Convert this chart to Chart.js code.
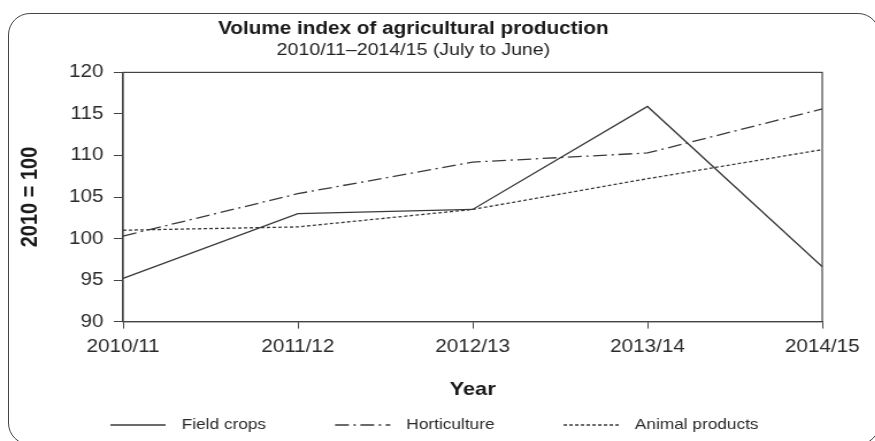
<!DOCTYPE html>
<html>
<head>
<meta charset="utf-8">
<script src="https://cdn.jsdelivr.net/npm/chart.js@4"></script>
<style>
  html, body { margin: 0; padding: 0; background: #fff; }
  #wrap { position: relative; width: 875px; height: 441px; overflow: hidden; }
  #frame { position: absolute; left: 8px; top: 13px; width: 872px; height: 432px;
    border: 1.5px solid #444; border-radius: 22px; box-sizing: border-box; }
  /* the original is a bit wide-set, so the drawing is stretched sideways */
  #plot { position: absolute; left: 0; top: 0; width: 761px; height: 441px;
    transform: scaleX(1.15); transform-origin: 0 0; }
</style>
</head>
<body>
<div id="wrap">
  <div id="frame"></div>
  <div id="plot"><canvas id="chart" width="761" height="441"></canvas></div>
</div>
<script>
// ===== data =====
const years = ['2010/11', '2011/12', '2012/13', '2013/14', '2014/15']
const fieldCrops = [95.2, 103.0, 103.5, 115.9, 96.6]
const horticulture = [100.3, 105.4, 109.2, 110.3, 115.6]
const animalProducts = [101.0, 101.4, 103.5, 107.2, 110.7]
const yTicks = [90, 95, 100, 105, 110, 115, 120]

const ink = '#3a3a3a'
const font = 'Liberation Sans, Arial, sans-serif'

// box round the plot area
const plotBox = {
  id: 'plotBox',
  afterDatasetsDraw(chart) {
    const a = chart.chartArea, ctx = chart.ctx
    ctx.save()
    ctx.strokeStyle = '#444'
    ctx.lineWidth = 1.2
    ctx.strokeRect(a.left, a.top, a.right - a.left, a.bottom - a.top)
    ctx.restore()
  }
}

// legend in one row along the bottom
const lineLegend = {
  id: 'lineLegend',
  afterDraw(chart) {
    const ctx = chart.ctx
    const y = 425, len = 48, gap = 14, itemGap = 60
    let x = 96
    ctx.save()
    ctx.font = `15px ${font}`
    ctx.textBaseline = 'middle'
    chart.data.datasets.forEach(ds => {
      ctx.strokeStyle = ds.borderColor
      ctx.lineWidth = 1.3
      ctx.setLineDash(ds.borderDash)
      ctx.beginPath()
      ctx.moveTo(x, y)
      ctx.lineTo(x + len, y)
      ctx.stroke()
      ctx.setLineDash([])
      x += len + gap
      ctx.fillStyle = '#2a2a2a'
      ctx.fillText(ds.label, x, y)
      x += ctx.measureText(ds.label).width + itemGap
    })
    ctx.restore()
  }
}

const line = (label, data, dash) => ({
  label, data,
  borderColor: ink, backgroundColor: 'transparent',
  borderWidth: 1.3, borderDash: dash,
  pointRadius: 0, tension: 0, fill: false
})

new Chart(document.getElementById('chart'), {
  type: 'line',
  data: {
    labels: years,
    datasets: [
      line('Field crops', fieldCrops, []),
      line('Horticulture', horticulture, [12, 4, 2, 4]),
      line('Animal products', animalProducts, [3, 2])
    ]
  },
  options: {
    responsive: false, animation: false,
    layout: { padding: { left: 4, right: 46, top: 0, bottom: 40 } },
    plugins: {
      title: {
        display: true, text: 'Volume index of agricultural production',
        color: '#1a1a1a', font: { family: font, size: 18, weight: 'bold', lineHeight: 0.8 },
        padding: { top: 22, bottom: 0 }
      },
      subtitle: {
        display: true, text: '2010/11\u20132014/15 (July to June)',
        color: '#222', font: { family: font, size: 17, lineHeight: 1 },
        padding: { top: 5, bottom: 14 }
      },
      legend: { display: false },
      tooltip: { enabled: false }
    },
    scales: {
      x: {
        offset: false,
        grid: { display: true, drawOnChartArea: false, tickLength: 7, color: '#444' },
        border: { color: '#444', width: 1.2 },
        ticks: { color: '#2a2a2a', font: { family: font, size: 18 }, padding: 8, maxRotation: 0 },
        title: { display: true, text: 'Year', color: '#1a1a1a', font: { family: font, size: 19, weight: 'bold' }, padding: { top: 12, bottom: 0 } }
      },
      y: {
        min: 90, max: 120,
        afterBuildTicks: s => { s.ticks = yTicks.map(v => ({ value: v })) },
        afterFit: s => { s.width = 103 },
        grid: { display: true, drawOnChartArea: false, tickLength: 8, color: '#444' },
        border: { color: '#444', width: 1.2 },
        ticks: { color: '#2a2a2a', font: { family: font, size: 18 }, padding: 9 },
        title: { display: true, text: '2010 = 100', color: '#1a1a1a', font: { family: font, size: 20, weight: 'bold' }, padding: { top: 10, bottom: 0 } }
      }
    }
  },
  plugins: [plotBox, lineLegend]
})
</script>
</body>
</html>
